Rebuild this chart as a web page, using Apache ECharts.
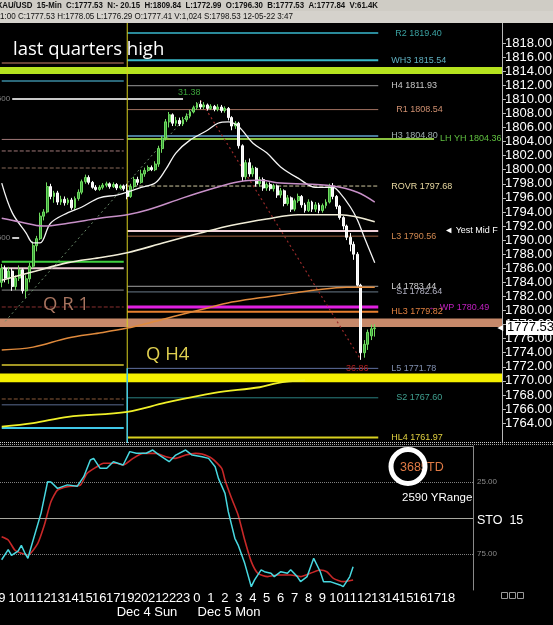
<!DOCTYPE html>
<html><head><meta charset="utf-8">
<script src="https://cdn.jsdelivr.net/npm/echarts@6/dist/echarts.min.js"></script>
<style>html,body{margin:0;padding:0;background:#000;overflow:hidden}#c{width:553px;height:625px}</style>
</head><body><div id="c"></div><script>
// ---------- DATA ----------
const hourLabels = [9,10,11,12,13,14,15,16,17,19,20,21,22,23,0,1,2,3,4,5,6,7,8,9,10,11,12,13,14,15,16,17,18,19,20,21];
const minuteLabels = ['00','15','30','45'];
const priceTicks = [1764,1766,1768,1770,1772,1774,1776,1778,1780,1782,1784,1786,1788,1790,1792,1794,1796,1798,1800,1802,1804,1806,1808,1810,1812,1814,1816,1818];
const stochTicks = [25, 75];
const stochLevels = [25, 50, 75];
// [open, high, low, close]
const ohlc = [
[1784.0,1786.6,1783.3,1786.0],[1786.0,1786.4,1784.0,1784.6],[1784.6,1786.2,1783.8,1785.6],[1785.6,1786.0,1782.8,1783.4],
[1783.4,1785.0,1782.9,1784.6],[1784.6,1786.4,1784.2,1785.8],[1785.8,1786.0,1782.4,1782.8],[1782.8,1785.0,1781.8,1784.5],
[1784.5,1786.8,1784.0,1786.3],[1786.3,1789.8,1786.0,1789.2],[1789.2,1790.6,1788.4,1790.2],[1790.2,1793.9,1790.0,1793.4],
[1793.4,1794.4,1792.8,1794.0],[1794.0,1798.2,1793.8,1797.6],[1797.6,1798.0,1795.8,1796.2],[1796.2,1797.0,1795.3,1796.7],
[1796.7,1797.0,1795.0,1795.4],[1795.4,1796.3,1795.0,1795.8],[1795.8,1796.2,1794.9,1795.3],[1795.3,1796.0,1795.0,1795.7],
[1795.7,1796.0,1794.3,1794.6],[1794.6,1796.2,1794.3,1795.9],[1795.9,1797.2,1795.6,1796.8],[1796.8,1798.6,1796.5,1798.3],
[1798.3,1799.3,1798.0,1798.9],[1798.9,1799.2,1797.9,1798.2],[1798.2,1798.4,1797.3,1797.5],[1797.5,1797.8,1797.0,1797.2],
[1797.2,1797.8,1797.0,1797.5],[1797.5,1798.1,1797.2,1797.8],[1797.8,1798.3,1797.5,1798.0],[1798.0,1798.2,1797.3,1797.6],
[1797.6,1798.2,1797.4,1797.9],[1797.9,1798.1,1797.1,1797.4],[1797.4,1797.9,1797.2,1797.7],[1797.7,1797.9,1797.0,1797.3],
[1797.0,1798.0,1795.8,1796.2],[1796.2,1798.0,1796.0,1797.6],[1797.6,1799.0,1797.3,1798.6],[1798.6,1799.0,1797.8,1798.2],
[1798.2,1800.0,1798.0,1799.4],[1799.4,1800.3,1799.0,1799.9],[1799.9,1800.6,1799.7,1800.3],[1800.3,1800.6,1799.8,1800.0],
[1800.0,1801.2,1799.8,1800.8],[1800.8,1803.4,1800.4,1803.0],[1803.0,1804.8,1802.4,1804.5],[1804.5,1807.2,1804.2,1806.8],
[1806.8,1808.2,1806.0,1807.8],[1807.8,1808.0,1806.2,1806.6],[1806.6,1807.5,1806.2,1807.0],[1807.0,1807.4,1806.2,1806.5],
[1806.5,1807.5,1806.2,1807.1],[1807.1,1808.0,1806.8,1807.6],[1807.6,1808.5,1807.3,1808.2],[1808.2,1809.1,1808.0,1808.8],
[1808.8,1809.6,1808.5,1809.3],[1809.3,1809.84,1808.6,1808.9],[1808.9,1809.6,1808.6,1809.2],[1809.2,1809.4,1808.4,1808.7],
[1808.7,1809.3,1808.5,1809.0],[1809.0,1809.2,1808.3,1808.6],[1808.6,1809.3,1808.3,1808.9],[1808.9,1809.2,1808.1,1808.4],
[1808.4,1809.0,1808.1,1808.7],[1808.7,1808.9,1807.0,1807.4],[1807.4,1807.6,1805.6,1806.2],[1806.2,1806.9,1805.8,1806.6],
[1806.6,1806.8,1803.0,1803.4],[1803.4,1803.6,1798.4,1799.0],[1799.0,1801.4,1798.6,1801.0],[1801.0,1801.6,1799.0,1799.4],
[1799.4,1800.6,1799.0,1800.2],[1800.2,1800.4,1797.6,1798.0],[1798.0,1799.0,1797.6,1798.6],[1798.6,1798.9,1797.0,1797.4],
[1797.4,1798.2,1797.0,1797.9],[1797.9,1798.2,1797.0,1797.3],[1797.3,1798.0,1796.9,1797.7],[1797.7,1797.9,1796.0,1796.4],
[1796.4,1797.4,1796.0,1797.0],[1797.0,1797.2,1794.8,1795.2],[1795.2,1796.4,1794.9,1796.0],[1796.0,1796.2,1794.0,1794.4],
[1794.4,1795.9,1794.1,1795.6],[1795.6,1796.6,1795.3,1796.2],[1796.2,1796.4,1794.6,1795.0],[1795.0,1795.3,1793.9,1794.2],
[1794.2,1795.8,1794.0,1795.4],[1795.4,1795.6,1794.0,1794.4],[1794.4,1795.4,1794.0,1795.0],[1795.0,1795.3,1793.8,1794.2],
[1794.2,1795.2,1793.9,1794.9],[1794.9,1795.8,1794.5,1795.4],[1795.4,1798.0,1795.2,1797.6],[1797.6,1798.1,1795.8,1796.2],
[1796.2,1796.4,1794.4,1794.8],[1794.8,1795.0,1792.9,1793.2],[1793.2,1793.4,1791.5,1792.0],[1792.0,1792.2,1790.0,1790.4],
[1790.4,1791.0,1788.4,1789.4],[1789.4,1789.8,1787.2,1788.0],[1788.0,1788.3,1783.4,1783.6],[1783.6,1783.8,1772.99,1774.0],
[1774.0,1775.8,1773.3,1775.2],[1775.2,1777.3,1774.4,1776.9],[1776.4,1778.0,1775.8,1777.4],[1777.41,1778.05,1776.29,1777.53]
];
const lastClose = 1777.53;
// moving averages: [bar index, price]
const maFast = [[0,1798.1],[3,1793.9],[7,1791.0],[9,1789.6],[11,1789.6],[14,1792.4],[19,1793.9],[23,1794.7],[28,1796.0],[33,1796.4],[36,1796.8],[40,1797.5],[44,1798.1],[47,1800.0],[50,1802.4],[54,1804.2],[59,1805.6],[62,1806.6],[65,1806.8],[68,1806.1],[72,1803.8],[76,1802.4],[80,1800.4],[85,1798.8],[90,1797.5],[95,1797.5],[97,1796.7],[100,1794.7],[102,1792.9],[104,1790.4],[107,1786.8]];
const maMid = [[0,1793.1],[5,1792.6],[12,1792.0],[19,1792.4],[28,1793.1],[36,1793.6],[42,1794.3],[52,1796.0],[61,1797.4],[68,1798.3],[74,1798.5],[80,1798.1],[95,1797.7],[102,1796.8],[107,1795.4]];
const maSlow = [[0,1784.3],[9,1785.5],[19,1786.8],[28,1787.5],[36,1788.2],[47,1789.7],[57,1791.0],[66,1792.1],[76,1793.0],[85,1793.6],[97,1793.6],[107,1792.6]];
const maOrange = [[0,1774.4],[9,1774.8],[19,1776.1],[28,1776.8],[36,1777.5],[42,1778.2],[49,1779.1],[57,1780.1],[66,1781.2],[74,1781.8],[80,1782.2],[90,1782.9],[99,1783.3],[107,1783.3]];
const maYellow = [[0,1763.5],[9,1764.0],[19,1764.9],[36,1765.6],[47,1766.9],[61,1768.3],[74,1769.1],[79,1769.7],[87,1770.1]];
const zigUp = [[1,1778.46],[57,1809.84]];
const zigDown = [[57,1809.84],[103,1772.99]];
// stochastic (15): [bar index, value]
const stochK = [[0,79],[2,72],[3,76],[5,73],[6,69],[7,74],[8,78],[9,70],[12,46.6],[14,24.8],[15,25],[17,29.4],[20,27],[23,28],[25,21.3],[27,9.7],[28,8.6],[30,15.5],[32,15.5],[34,10.9],[37,13.2],[39,3.9],[41,5],[44,5],[46,2.8],[48,6.3],[51,10.9],[53,6.3],[56,2.8],[58,6.3],[61,7.4],[63,8.6],[65,14.4],[66,22.5],[68,32.9],[69,45.6],[71,64.1],[72,68.8],[74,81.5],[76,97.7],[77,93],[79,86],[80,87.3],[82,88.4],[83,90.7],[85,87.3],[87,88.4],[88,86],[90,90.7],[91,94.2],[93,90.7],[95,78],[97,87.3],[98,94.2],[100,94.2],[103,96.5],[104,97.7],[106,90.7],[107,83.8]];
const stochD = [[0,63],[2,65.3],[4,72.2],[6,74.5],[8,75.7],[11,67.6],[13,54.9],[15,38.7],[17,30.6],[20,28.2],[24,27.1],[26,19],[29,14.4],[31,12],[35,12],[37,13.2],[40,8.6],[43,5.1],[47,5.1],[50,7.4],[53,8.6],[56,6.3],[59,5.1],[61,5.6],[64,8.6],[67,15.5],[68,23.6],[70,36.3],[72,47.9],[74,65.3],[76,80.3],[78,88.4],[81,90.7],[84,89.6],[88,89.6],[91,90.7],[94,88.4],[97,86.1],[99,87.3],[101,91.9],[104,94.2],[107,93.1]];
// levels of the current session
const rightLevelNames = ['R2','WH3','H4','R1','H3','LH YH','ROVR','Yest Mid F','L3','L4','S1','WP','HL3','L5','S2','HL4'];
const rightLevelValues = [1819.40,1815.54,1811.93,1808.54,1804.80,1804.36,1797.68,1791.30,1790.56,1783.44,1782.64,1780.49,1779.82,1771.78,1767.60,1761.97];
// levels of the previous session
const leftLevelValues = [1815.16,1812.60,1804.30,1802.66,1800.24,1786.93,1786.00,1782.90,1780.50,1772.26,1767.43,1766.60,1763.30];
const fibLevelValues = [1810.05,1790.30];
// bands
const bandNames = ['last quarters high','Q R 1','Q H4'];
const bandLow = [1813.60,1777.65,1769.80];
const bandHigh = [1814.60,1778.85,1771.05];
const header1 = 'XAU/USD  15-Min  C:1777.53  N:- 20.15  H:1809.84  L:1772.99  O:1796.30  B:1777.53  A:1777.84  V:61.4K';
const header2 = '1:00 C:1777.53 H:1778.05 L:1776.29 O:1777.41 V:1,024 S:1798.53 12-05-22 3:47';

// ---------- BUILD ----------
const categories = [];
hourLabels.forEach(h => minuteLabels.forEach(m => categories.push(h + ':' + m)));
const candleData = ohlc.map(r => [r[0], r[3], r[2], r[1]]);
const NARROW = '"Liberation Sans Narrow","Liberation Sans",Arial,sans-serif';
const SANS = '"Liberation Sans",Arial,sans-serif';

const rightStyle = {
  color:     ['#2a8a9a','#38b8c8','#9a9a9a','#a07060','#4a7a9a','#8ac040','#d0c8a0','#f0d0d8','#a06040','#a0a0a0','#6a7a8a','#e020e0','#e88030','#6070a0','#2a8080','#d8d020'],
  width:     [2,2,1,1,2,2,1,2,1,1,1,3,2,1,1,2],
  type:      ['solid','solid','solid','solid','solid','solid','dashed','solid','solid','solid','solid','solid','solid','solid','solid','solid'],
  end:       [108,108,108,108,108,124,108,108,108,108,108,108,108,108,108,108],
  labelColor:['#3aa0a0','#60b0c0','#c8c8c8','#d09070','#a0b0b0','#60c040','#e8d8a0','#ffffff','#d08850','#d0d0d0','#b0b0c0','#c020c0','#e08040','#8090b0','#40a090','#e0d040'],
  dist:      [17,13,13,18,13,6,13,66,13,13,18,50,13,13,18,13],
  prefix:    ['','','','','','','','◄ ','','','','← ','','','',''],
  showValue: [1,1,1,1,1,1,1,0,1,1,1,1,1,1,1,1]
};
const leftStyle = {
  color: ['#8a5a48','#3a8aa0','#a07878','#a07878','#8a6a5a','#40d040','#e8c8d0','#8a8a8a','#8a3030','#d8c830','#8a5a3a','#5a6a90','#40c8e8'],
  width: [1.5,1.5,1,1,1,2,2,1,1,1.5,1,1,2],
  type:  ['solid','solid','solid','dashed','dashed','solid','solid','solid','dashed','solid','dashed','solid','solid']
};
const bandColors = ['#b6e31f','#c7896a','#f5f000'];

const series = [];
// previous-session levels
leftLevelValues.forEach((v,k) => series.push({
  type:'line', xAxisIndex:0, yAxisIndex:0, silent:true, symbol:'none', z:3,
  data:[[0,v],[35,v]],
  lineStyle:{color:leftStyle.color[k], width:leftStyle.width[k], type:leftStyle.type[k]}
}));
// fib lines
const fibEnds = [52,5];
fibLevelValues.forEach((v,k) => series.push({
  type:'line', xAxisIndex:0, yAxisIndex:0, silent:true, symbol:'none', z:3,
  data:[[3,v],[fibEnds[k],v]],
  lineStyle:{color:'#c8c8c8', width:2}
}));
series.push({
  type:'scatter', xAxisIndex:0, yAxisIndex:0, silent:true, symbolSize:0, z:3,
  data: fibLevelValues.map(v => [3, v]),
  label:{show:true, position:'left', distance:2, formatter:'500', color:'#a0a0a0', fontSize:8, fontFamily:SANS}
});
// current-session levels
rightLevelValues.forEach((v,k) => series.push({
  type:'line', xAxisIndex:0, yAxisIndex:0, silent:true, symbol:'none', z:3,
  data:[[36,v],[rightStyle.end[k],v]],
  lineStyle:{color:rightStyle.color[k], width:rightStyle.width[k], type:rightStyle.type[k]},
  endLabel:{show:true, distance:rightStyle.dist[k], color:rightStyle.labelColor[k], fontSize:9, fontFamily:NARROW,
    formatter: rightStyle.prefix[k] + rightLevelNames[k] + (rightStyle.showValue[k] ? ' ' + v.toFixed(2) : '')}
}));
// session vertical lines
series.push({type:'line', xAxisIndex:0, yAxisIndex:0, silent:true, symbol:'none', z:3,
  data:[[36,1761.18],[36,1820.98]], lineStyle:{color:'#d8d020', width:1}});
series.push({type:'line', xAxisIndex:0, yAxisIndex:0, silent:true, symbol:'none', z:3,
  data:[[36,1761.18],[36,rightLevelValues[13]]], lineStyle:{color:'#40c8e8', width:1.5}});
// zigzag
series.push({type:'line', xAxisIndex:0, yAxisIndex:0, silent:true, symbol:'none', z:3,
  data:zigUp, lineStyle:{color:'#6a8a6a', width:1, type:[2,3]}});
series.push({type:'line', xAxisIndex:0, yAxisIndex:0, silent:true, symbol:'none', z:3,
  data:zigDown, lineStyle:{color:'#9a2a2a', width:1.2, type:[2,3]}});
// candles
series.push({
  type:'candlestick', xAxisIndex:0, yAxisIndex:0, data:candleData, barWidth:2.4, z:4, silent:true,
  itemStyle:{color:'#3aa03a', color0:'#f2f2f2', borderColor:'#70dc60', borderColor0:'#ffffff', borderWidth:1},
  markLine:{silent:true, symbol:'none', data:[{yAxis:lastClose}], lineStyle:{color:'transparent', width:0},
    label:{show:true, position:'end', distance:4, formatter: lastClose.toFixed(2), color:'#000', backgroundColor:'#fff',
      fontSize:13, fontFamily:SANS, padding:[1,1,0,1]}},
  markPoint:{silent:true, symbol:'triangle', symbolSize:[6,6], symbolRotate:90, data:[{coord:[143,lastClose]}],
    itemStyle:{color:'#ffffff'}, label:{show:false}}
});
// bands
series.push({
  type:'line', xAxisIndex:0, yAxisIndex:0, silent:true, symbol:'none', z:5, data:[],
  markArea:{silent:true, data: bandLow.map((lo,k) => [{yAxis:lo, name:bandNames[k], itemStyle:{color:bandColors[k], opacity:1}}, {yAxis:bandHigh[k]}]),
    label:{show:false}}
});
// moving averages
[[maFast,'#f4f4f4',1.3],[maMid,'#c890c8',1.5],[maSlow,'#f2eed8',1.6],[maOrange,'#e08a3c',1.5],[maYellow,'#f0f028',1.8]].forEach(m => series.push({
  type:'line', xAxisIndex:0, yAxisIndex:0, silent:true, symbol:'none', smooth:0.35, z:6,
  data:m[0], lineStyle:{color:m[1], width:m[2]}
}));
// stochastic
series.push({type:'line', xAxisIndex:1, yAxisIndex:1, silent:true, symbol:'none', z:4, data:stochD, smooth:0.2,
  lineStyle:{color:'#c82828', width:1.6}});
series.push({type:'line', xAxisIndex:1, yAxisIndex:1, silent:true, symbol:'none', z:5, data:stochK,
  lineStyle:{color:'#48d8e0', width:1.5},
  markLine:{silent:true, symbol:'none', label:{show:false},
    data: stochLevels.map(v => ({yAxis:v, lineStyle:{color: v === 50 ? '#a8a8a0' : '#808080', type: v === 50 ? 'solid' : 'dotted', width:1}}))}
});

function fitScale(text, font, target){
  const ctx = document.createElement('canvas').getContext('2d');
  ctx.font = font;
  return target / ctx.measureText(text).width;
}
const h1font = 'bold 9px "Liberation Sans Narrow","Liberation Sans"';
const h2font = '9px "Liberation Sans Narrow","Liberation Sans"';

const graphic = [
  {type:'rect', z:100, shape:{x:0,y:0,width:553,height:23}, style:{fill:'#d5d2cc'}},
  {type:'rect', z:100, shape:{x:0,y:0,width:553,height:11}, style:{fill:'#cfccc5'}},
  {type:'text', z:101, x:-3, y:5.5, scaleX: fitScale(header1, h1font, 381),
    style:{text:header1, fontSize:9, fontWeight:'bold', fontFamily:NARROW, fill:'#111', verticalAlign:'middle'}},
  {type:'text', z:101, x:0, y:17, scaleX: fitScale(header2, h2font, 293),
    style:{text:header2, fontSize:9, fontFamily:NARROW, fill:'#111', verticalAlign:'middle'}},
  {type:'text', z:50, x:13, y:50, style:{text:bandNames[0], fontSize:18.5, fontFamily:'"Open Sans",sans-serif', fill:'#ffffff', verticalAlign:'middle'}},
  {type:'text', z:50, x:43, y:304.5, style:{text:'Q R 1', fontSize:18.5, fontFamily:'"Open Sans",sans-serif', fill:'#a87560', verticalAlign:'middle'}},
  {type:'text', z:50, x:146, y:354.5, style:{text:bandNames[2], fontSize:18.5, fontFamily:'"Open Sans",sans-serif', fill:'#e0d050', verticalAlign:'middle'}},
  {type:'text', z:50, x:178, y:93, style:{text:'31.38', fontSize:9, fontFamily:NARROW, fill:'#3aa03a', verticalAlign:'middle'}},
  {type:'text', z:50, x:346, y:368.5, style:{text:'36.86', fontSize:9, fontFamily:NARROW, fill:'#b02020', verticalAlign:'middle'}},
  // separator
  {type:'line', z:50, shape:{x1:0,y1:442.5,x2:553,y2:442.5}, style:{stroke:'#d0d0d0', lineWidth:1, lineDash:[1,1]}},
  {type:'line', z:50, shape:{x1:0,y1:444.5,x2:553,y2:444.5}, style:{stroke:'#a0a0a0', lineWidth:1, lineDash:[1,1]}},
  // oscillator annotations
  {type:'text', z:50, x:400, y:468, style:{text:'3685', fontSize:12.5, fontFamily:SANS, fill:'#e07a45', verticalAlign:'middle'}},
  {type:'text', z:50, x:427, y:468, style:{text:'TD', fontSize:12.5, fontFamily:SANS, fill:'#e07a45', verticalAlign:'middle'}},
  {type:'circle', z:51, shape:{cx:408,cy:466.5,r:17}, style:{fill:'none', stroke:'#ffffff', lineWidth:5}},
  {type:'text', z:50, x:402, y:497.5, style:{text:'2590 YRange', fontSize:11.5, fontFamily:SANS, fill:'#ffffff', verticalAlign:'middle'}},
  {type:'text', z:50, x:477, y:520.5, style:{text:'STO  15', fontSize:12.5, fontFamily:SANS, fill:'#ffffff', verticalAlign:'middle'}},
  {type:'text', z:50, x:147, y:612, style:{text:'Dec 4 Sun', fontSize:13, fontFamily:SANS, fill:'#ffffff', align:'center', verticalAlign:'middle'}},
  {type:'text', z:50, x:229, y:612, style:{text:'Dec 5 Mon', fontSize:13, fontFamily:SANS, fill:'#ffffff', align:'center', verticalAlign:'middle'}},
  {type:'rect', z:50, shape:{x:501.5,y:592.5,width:6,height:6}, style:{fill:'none', stroke:'#9a9a9a', lineWidth:1}},
  {type:'rect', z:50, shape:{x:509.5,y:592.5,width:6,height:6}, style:{fill:'none', stroke:'#9a9a9a', lineWidth:1}},
  {type:'rect', z:50, shape:{x:517.5,y:592.5,width:6,height:6}, style:{fill:'none', stroke:'#9a9a9a', lineWidth:1}}
];

const option = {
  backgroundColor:'#000',
  animation:false,
  grid:[
    {left:0, top:22, width:502, height:421, containLabel:false, outerBoundsMode:'none'},
    {left:0, top:446, width:473, height:144, containLabel:false, outerBoundsMode:'none'}
  ],
  xAxis:[
    {type:'category', gridIndex:0, data:categories, boundaryGap:true, position:'bottom', offset:147,
      axisLine:{show:false}, axisTick:{show:false}, splitLine:{show:false},
      axisLabel:{show:true, interval:3, hideOverlap:false, color:'#ffffff', fontSize:13, fontFamily:SANS, margin:2,
        formatter:(v,i) => { const p = String(v).split(':'); return (p[1] === '00' && i <= 128) ? p[0] : ''; }}},
    {type:'category', gridIndex:1, data:categories, boundaryGap:true,
      axisLine:{show:true, lineStyle:{color:'#8a8a8a'}}, axisTick:{show:false}, axisLabel:{show:false}, splitLine:{show:false}}
  ],
  yAxis:[
    {type:'value', gridIndex:0, position:'right', min:1761.18, max:1820.98, splitLine:{show:false},
      axisLine:{show:true, lineStyle:{color:'#b8b8b8'}},
      axisTick:{show:true, customValues:priceTicks, length:4, lineStyle:{color:'#b8b8b8'}},
      axisLabel:{customValues:priceTicks, formatter:v => Number(v).toFixed(2), color:'#ffffff', fontSize:13, fontFamily:SANS, margin:3}},
    {type:'value', gridIndex:1, position:'right', min:0, max:100, inverse:true, splitLine:{show:false},
      axisLine:{show:true, lineStyle:{color:'#8a8a8a'}}, axisTick:{show:false},
      axisLabel:{customValues:stochTicks, formatter:v => Number(v).toFixed(2), color:'#8c8c8c', fontSize:8, fontFamily:SANS, margin:4}}
  ],
  series: series,
  graphic: graphic
};
const chart = echarts.init(document.getElementById('c'), null, {renderer:'canvas'});
chart.setOption(option);
</script></body></html>
